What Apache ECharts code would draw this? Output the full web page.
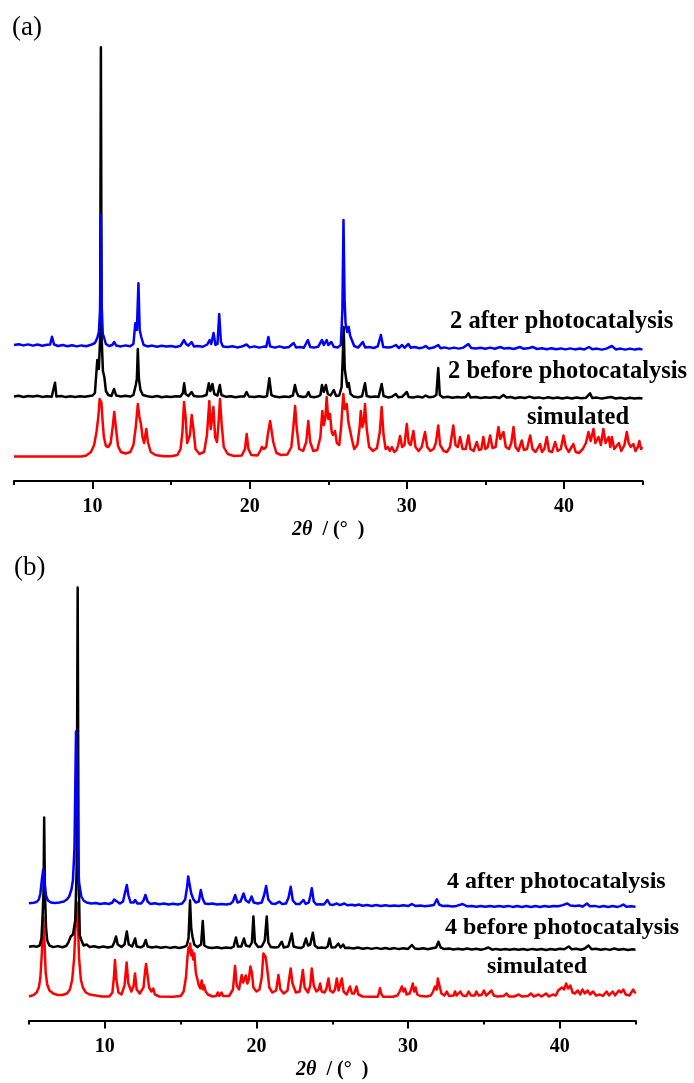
<!DOCTYPE html>
<html>
<head>
<meta charset="utf-8">
<script src="https://cdn.jsdelivr.net/npm/echarts@6/dist/echarts.min.js"></script>
<style>
  html, body { margin: 0; padding: 0; background: #fff; }
  #chart { width: 694px; height: 1083px; }
</style>
</head>
<body>
<div id="chart"></div>
<script>
// x axis ticks (2θ, degrees)
const majorTicks = [10, 20, 30, 40]
const minorTicks = [5, 15, 25, 35, 45]

// series labels
const labelsA = ['2 after photocatalysis', '2 before photocatalysis', 'simulated']
const labelsB = ['4 after photocatalysis', '4 before photocatalysis', 'simulated']

// vertical stacking offsets (a.u.), simulated / before / after
const offsetsA = [24, 82, 131]
const offsetsB = [23, 70, 113]

// ---- panel (a) : compound 2 ----
const aSimulated = [
  [5.0,0.5],[9.3,0.5],[9.6,1.5],[9.9,5],[10.1,12],[10.25,25],[10.38,42],[10.45,58],[10.5,60],[10.56,55],[10.63,38],[10.72,20],[10.85,11],
  [11.0,10],[11.15,14],[11.28,30],[11.38,45],[11.48,30],[11.62,11],[11.8,5],[12.1,3.5],[12.4,5],[12.6,12],[12.75,30],[12.88,53],[12.98,40],
  [13.08,33],[13.18,20],[13.28,14],[13.42,28],[13.52,15],[13.7,5],[14.0,2],[14.5,0.8],[15.0,0.8],[15.4,2],[15.6,8],[15.72,25],[15.82,55],
  [15.92,40],[16.02,14],[16.12,12],[16.2,22],[16.31,42],[16.42,28],[16.55,8],[16.8,3],[17.1,5],[17.28,22],[17.43,56],[17.52,28],[17.6,30],
  [17.69,50],[17.8,20],[17.92,15],[18.0,30],[18.11,58],[18.22,32],[18.35,10],[18.6,3],[19.0,1],[19.5,1.5],[19.7,8],[19.81,23],[19.92,8],
  [20.1,2],[20.5,1.5],[20.7,7],[20.77,10],[20.9,8],[21.05,10],[21.15,22],[21.3,36],[21.38,34],[21.5,15],[21.7,4],[22.0,2],[22.4,2.5],
  [22.65,10],[22.78,30],[22.89,51],[23.0,28],[23.15,8],[23.4,6],[23.6,15],[23.73,36],[23.85,15],[24.05,6],[24.3,7],[24.5,20],[24.62,46],
  [24.72,32],[24.82,40],[24.9,60],[25.0,38],[25.11,43],[25.22,25],[25.3,22],[25.43,26],[25.55,14],[25.7,12],[25.82,30],[25.9,50],[25.96,63],
  [26.05,48],[26.12,50],[26.18,53],[26.28,35],[26.39,36],[26.5,18],[26.65,8],[26.85,12],[27.0,30],[27.07,46],[27.17,30],[27.26,35],[27.34,53],
  [27.45,28],[27.6,10],[27.85,6],[28.1,9],[28.28,25],[28.4,50],[28.52,22],[28.65,8],[28.8,10],[28.92,6],[29.05,10],[29.2,5],[29.35,7],
  [29.45,12],[29.57,21],[29.7,10],[29.85,12],[30.0,33],[30.12,14],[30.25,12],[30.42,26],[30.55,10],[30.75,6],[30.95,10],[31.16,25],[31.3,10],
  [31.5,6],[31.7,8],[31.85,14],[32.0,31.5],[32.12,12],[32.35,6],[32.55,5],[32.75,10],[32.96,31.5],[33.1,12],[33.25,10],[33.39,20],[33.55,8],
  [33.75,8],[33.92,21.5],[34.05,8],[34.25,6],[34.45,15],[34.6,7],[34.75,8],[34.87,20],[35.0,8],[35.15,10],[35.3,21.5],[35.45,9],[35.65,10],
  [35.83,30],[35.95,18],[36.05,20],[36.15,25],[36.3,10],[36.5,8],[36.65,14],[36.79,30],[36.92,10],[37.1,6],[37.32,16.5],[37.45,7],[37.65,8],
  [37.85,21.5],[38.0,8],[38.2,5],[38.48,13],[38.6,5],[38.75,8],[38.91,20],[39.05,6],[39.25,5],[39.44,15],[39.6,6],[39.8,8],[39.97,21.5],
  [40.12,10],[40.3,5],[40.6,13],[40.75,5],[40.95,4],[41.2,8],[41.4,14],[41.56,25],[41.7,16],[41.88,28],[42.0,14],[42.2,20],[42.35,12],
  [42.51,28],[42.65,14],[42.85,20],[42.95,10],[43.05,20],[43.2,8],[43.5,14],[43.65,6],[43.85,12],[44.0,25],[44.12,14],[44.25,10],[44.42,13],
  [44.55,6],[44.7,10],[44.8,16],[44.9,8],[45.0,10]
]
const aBefore = [
  [5.0,2.5],[5.3,3.2],[5.6,2.0],[5.9,3.0],[6.2,2.4],[6.5,3.3],[6.8,2.1],[7.1,2.8],[7.4,2.2],[7.52,2.6],[7.61,16.3],[7.7,2.4],[8.0,3.0],
  [8.3,1.9],[8.6,2.7],[8.9,2.0],[9.2,2.8],[9.5,2.2],[9.8,3.0],[10.0,3.5],[10.15,6],[10.3,39],[10.4,30],[10.48,60],[10.53,351.7],[10.58,60],
  [10.66,28],[10.75,22],[10.85,8],[11.0,4],[11.2,3],[11.37,10],[11.5,3.5],[11.8,2.6],[12.1,3.2],[12.4,2.4],[12.6,4],[12.75,14],[12.82,20],
  [12.88,50],[12.95,20],[13.05,9],[13.2,4],[13.5,2.8],[13.8,2.0],[14.1,3.0],[14.4,1.8],[14.7,2.6],[15.0,2.0],[15.3,2.8],[15.6,2.5],[15.75,6],
  [15.83,15.7],[15.92,5],[16.1,3],[16.3,7],[16.45,3],[16.7,2.5],[17.0,2.8],[17.25,4],[17.4,15.7],[17.5,8],[17.63,15],[17.75,5],[17.95,3.5],
  [18.1,14],[18.2,4],[18.5,2.2],[18.8,2.8],[19.1,1.8],[19.4,2.6],[19.65,2.4],[19.8,7],[19.95,2.5],[20.3,2.0],[20.6,2.7],[20.9,1.9],[21.1,3.0],
  [21.25,20.7],[21.38,4],[21.6,2.4],[21.9,1.8],[22.2,2.6],[22.5,2.0],[22.75,3.5],[22.88,14],[22.98,7],[23.1,3],[23.4,2.0],[23.6,2.6],
  [23.74,7],[23.85,2.5],[24.1,1.8],[24.35,2.6],[24.5,4],[24.6,14],[24.72,7],[24.85,14],[24.97,5],[25.15,3.5],[25.35,9],[25.5,3],[25.7,3.5],
  [25.85,12],[25.92,40],[25.98,72],[26.05,30],[26.15,19],[26.22,12],[26.3,16],[26.42,5],[26.6,2.6],[26.9,1.8],[27.15,2.8],[27.34,15.7],
  [27.45,3],[27.7,2.0],[28.0,2.6],[28.2,2.0],[28.4,15],[28.52,3],[28.8,1.6],[29.05,2.3],[29.3,5],[29.45,1.8],[29.7,2.2],[30.0,7],[30.12,2],
  [30.4,1.6],[30.7,2.4],[31.0,1.5],[31.2,3.5],[31.4,1.8],[31.7,2.2],[31.88,4],[32.0,31],[32.1,4],[32.3,1.6],[32.6,2.2],[32.9,1.2],[33.2,2.0],
  [33.5,1.4],[33.75,2.0],[33.92,5.7],[34.05,1.6],[34.4,2.0],[34.7,1.0],[35.0,1.8],[35.3,1.2],[35.6,2.0],[35.9,1.0],[36.15,4],[36.35,1.5],
  [36.6,2.0],[36.9,0.8],[37.2,1.8],[37.5,1.0],[37.8,2.4],[38.1,1.0],[38.4,1.6],[38.7,0.6],[39.0,1.8],[39.3,0.8],[39.6,1.5],[39.9,0.5],
  [40.2,1.4],[40.5,0.6],[40.8,1.5],[41.1,0.8],[41.4,1.2],[41.66,5.7],[41.8,1.0],[42.1,1.4],[42.4,0.4],[42.7,1.2],[43.0,2.0],[43.3,0.5],
  [43.6,1.2],[43.9,0.3],[44.2,1.2],[44.5,0.4],[44.8,1.0],[45.0,0.5]
]
const aAfter = [
  [5.0,5.0],[5.3,5.8],[5.6,4.6],[5.9,5.6],[6.2,4.4],[6.5,5.5],[6.8,4.2],[7.1,5.2],[7.3,5.5],[7.42,13.3],[7.55,5.5],[7.8,4.0],[8.1,5.0],
  [8.4,3.8],[8.7,4.8],[9.0,3.6],[9.3,4.6],[9.6,3.8],[9.9,5.2],[10.15,7],[10.3,12],[10.4,18],[10.48,40],[10.53,135],[10.58,45],[10.65,16],
  [10.72,13],[10.85,6],[11.05,4],[11.25,5],[11.38,8],[11.5,4.5],[11.8,3.6],[12.1,4.6],[12.4,3.8],[12.6,6],[12.72,26.7],[12.82,20],
  [12.92,66.7],[13.0,20],[13.1,13],[13.25,5],[13.5,3.6],[13.8,4.4],[14.1,3.2],[14.4,4.2],[14.7,3.4],[15.0,4.0],[15.3,3.0],[15.6,4.2],
  [15.82,10],[15.95,6],[16.1,4.4],[16.3,8],[16.45,3.6],[16.7,4.0],[17.0,3.2],[17.3,5.5],[17.45,10],[17.55,6],[17.7,17],[17.82,5],[17.95,6],
  [18.06,36],[18.17,8],[18.3,3.4],[18.6,3.0],[18.9,3.8],[19.2,2.6],[19.5,3.4],[19.8,5.5],[20.0,2.6],[20.3,3.6],[20.6,2.4],[20.9,3.4],
  [21.05,3],[21.19,13],[21.3,3.6],[21.6,2.4],[21.9,3.6],[22.0,4.5],[22.2,2.2],[22.5,3.0],[22.8,7],[22.95,2.6],[23.2,3.0],[23.45,2.2],
  [23.7,10],[23.85,3],[24.1,2.4],[24.35,3.2],[24.6,10],[24.72,5],[24.9,10],[25.0,5],[25.2,8],[25.35,3.2],[25.6,2.6],[25.8,5],[25.9,40],
  [25.97,130],[26.04,50],[26.1,27],[26.2,18],[26.3,23],[26.4,14],[26.5,10],[26.65,4],[26.9,2.4],[27.2,8],[27.35,2.6],[27.6,3.0],[27.9,2.0],
  [28.15,3.6],[28.35,15],[28.5,3],[28.8,2.4],[29.05,3.0],[29.3,5],[29.5,2.0],[29.7,5],[29.85,2.2],[30.1,6],[30.25,2.2],[30.5,3.0],[30.8,1.8],
  [31.05,2.6],[31.2,4],[31.4,1.6],[31.7,2.4],[32.0,5],[32.15,1.8],[32.4,2.6],[32.7,1.4],[33.0,2.4],[33.3,1.4],[33.6,2.4],[33.92,6],[34.1,2],
  [34.4,1.4],[34.7,2.2],[35.0,1.2],[35.3,2.4],[35.6,1.2],[35.95,3],[36.2,1.4],[36.5,2.0],[36.8,1.0],[37.2,3],[37.45,1.2],[37.8,2.0],[38.0,3],
  [38.3,1.0],[38.6,1.8],[38.9,0.8],[39.2,1.8],[39.5,0.8],[39.8,1.6],[40.1,0.6],[40.4,1.6],[40.7,0.6],[41.0,1.4],[41.3,0.6],[41.6,3],[41.8,0.8],
  [42.1,1.4],[42.4,0.4],[42.7,1.4],[43.05,4],[43.3,0.6],[43.6,1.4],[43.9,0.4],[44.2,1.4],[44.5,0.4],[44.8,1.2],[45.0,0.4]
]

// ---- panel (b) : compound 4 ----
const bSimulated = [
  [5.0,1],[5.3,2.5],[5.5,5],[5.65,10],[5.75,20],[5.85,45],[5.94,80],[6.02,55],[6.1,25],[6.2,13],[6.35,7],[6.6,4],[6.9,2.5],[7.2,2.5],
  [7.5,4],[7.7,8],[7.85,18],[7.98,40],[8.08,75],[8.15,95],[8.22,80],[8.3,40],[8.42,18],[8.55,10],[8.75,5],[9.0,3],[9.4,2],[9.8,1],[10.3,1],
  [10.5,5],[10.6,20],[10.67,37.5],[10.76,18],[10.9,5],[11.1,3],[11.3,12],[11.44,35],[11.55,14],[11.75,6],[11.9,12],[11.99,24],[12.1,8],
  [12.3,4],[12.55,10],[12.65,25],[12.72,33.5],[12.82,22],[12.92,10],[13.0,11],[13.08,6],[13.2,9],[13.3,3],[13.6,1],[14.5,0.8],[15.0,1.5],
  [15.2,6],[15.35,20],[15.45,40],[15.52,50],[15.58,45],[15.63,54],[15.7,42],[15.76,47],[15.83,38],[15.9,44],[16.0,25],[16.1,27],[16.2,12],
  [16.3,9],[16.39,17],[16.48,8],[16.55,12],[16.65,6],[16.8,3],[17.1,1],[17.35,1.5],[17.45,5],[17.55,1.5],[17.7,5],[17.8,1.5],[18.2,1.5],
  [18.45,8],[18.59,31.5],[18.7,12],[18.85,8],[19.03,22.5],[19.12,15],[19.2,18],[19.3,22],[19.4,14],[19.5,18],[19.6,31],[19.7,25],[19.8,10],
  [20.0,6],[20.2,8],[20.35,20],[20.46,44],[20.6,40.8],[20.7,30],[20.85,10],[21.05,5],[21.3,7],[21.45,22.5],[21.58,8],[21.8,4],[22.05,7],
  [22.15,18],[22.26,29],[22.38,14],[22.6,5],[22.85,6],[22.95,15],[23.06,27.5],[23.18,10],[23.4,5],[23.55,12],[23.65,29],[23.78,12],
  [23.95,6],[24.1,8],[24.2,14],[24.3,6],[24.5,5],[24.62,9],[24.75,19],[24.86,7],[25.05,5],[25.18,8],[25.3,19],[25.42,7],[25.52,9],[25.63,19],
  [25.75,6],[25.95,3],[26.05,5],[26.17,11],[26.3,4],[26.45,4],[26.6,11],[26.72,3],[27.0,1],[27.5,0.8],[28.0,0.8],[28.08,5],[28.15,9.2],
  [28.22,4],[28.35,0.8],[29.0,0.8],[29.3,2],[29.45,6],[29.59,11],[29.7,6],[29.8,9],[29.9,3],[30.1,4],[30.2,8],[30.31,14],[30.4,6],[30.5,10],
  [30.6,3],[30.8,1.5],[31.2,1],[31.5,2],[31.65,6],[31.78,11],[31.9,8],[31.96,19],[32.07,12],[32.2,4],[32.4,2],[32.55,6],[32.7,1.5],[33.0,2],
  [33.1,6],[33.2,2],[33.45,6],[33.6,2],[33.85,1.5],[34.0,6],[34.15,2],[34.4,2],[34.5,6],[34.65,2],[34.85,2.5],[35.0,7],[35.15,2],[35.3,4],
  [35.5,7],[35.65,2],[35.9,1],[36.3,1.5],[36.5,4],[36.65,1],[37.0,1],[37.3,3],[37.5,1],[37.9,1.5],[38.1,4],[38.3,1],[38.6,3],[38.8,1],
  [39.1,4],[39.3,1],[39.55,3],[39.75,2],[39.9,7],[40.0,5],[40.15,10],[40.3,8],[40.42,14],[40.55,9],[40.7,12],[40.85,5],[41.0,4],[41.2,7],
  [41.35,3],[41.5,8],[41.65,4],[41.85,7],[42.0,3],[42.2,6],[42.4,2],[42.65,3],[42.85,1.5],[43.1,6],[43.25,2],[43.5,6],[43.65,2],[43.9,7],
  [44.05,5],[44.2,8],[44.35,3],[44.6,2],[44.85,8],[45.0,4]
]
const bBefore = [
  [5.0,3.8],[5.3,4.5],[5.5,3.6],[5.7,5],[5.82,12],[5.9,35.5],[5.96,60],[6.0,133],[6.05,60],[6.12,24],[6.2,10],[6.35,5],[6.6,3.4],[6.9,4.4],
  [7.2,3.2],[7.45,4.5],[7.6,8],[7.75,14],[7.9,16],[8.05,30],[8.14,80],[8.21,363],[8.27,80],[8.35,15],[8.45,10.5],[8.6,5],[8.8,6],[9.0,3.6],
  [9.3,4.2],[9.6,3.0],[9.9,4.0],[10.2,3.0],[10.5,4],[10.62,8],[10.74,14],[10.85,6],[11.1,3.6],[11.3,6],[11.45,19],[11.58,6],[11.8,4],
  [12.0,12],[12.1,4],[12.35,3.2],[12.55,4.5],[12.7,10.5],[12.82,4],[13.1,3.0],[13.4,3.8],[13.7,2.8],[14.0,3.6],[14.3,2.6],[14.6,3.4],
  [14.9,2.6],[15.2,3.4],[15.4,5],[15.52,12],[15.62,50],[15.7,22],[15.78,14],[15.9,6],[16.1,3.4],[16.35,6],[16.46,29.5],[16.56,5],[16.8,3.0],
  [17.1,2.4],[17.4,3.2],[17.7,2.2],[18.0,3.0],[18.3,2.4],[18.5,4],[18.65,13],[18.78,4],[19.0,4],[19.18,12],[19.3,5],[19.55,4],[19.7,8],
  [19.8,34],[19.9,8],[20.1,3.6],[20.35,4],[20.55,10],[20.68,34],[20.78,8],[20.95,3.4],[21.2,3.0],[21.45,3.6],[21.67,8.8],[21.8,3.0],[22.1,4],
  [22.33,17],[22.45,4],[22.7,3.0],[22.95,2.4],[23.1,4],[23.27,12],[23.4,5],[23.55,6],[23.72,17.8],[23.85,5],[24.05,2.6],[24.3,3.0],[24.55,2.4],
  [24.7,4],[24.82,12],[24.95,3],[25.2,3.2],[25.4,7],[25.55,3],[25.72,6],[25.85,2.4],[26.1,2.8],[26.4,2.0],[26.7,3.0],[27.0,1.8],[27.3,2.6],
  [27.6,1.6],[27.9,2.6],[28.2,1.6],[28.5,2.4],[28.8,1.6],[29.1,2.4],[29.4,1.4],[29.7,2.2],[30.0,1.6],[30.25,5.5],[30.45,2.0],[30.7,1.4],
  [31.0,2.2],[31.3,1.2],[31.6,2.2],[31.85,3],[32.0,8.8],[32.15,3],[32.4,1.4],[32.7,2.0],[33.0,1.0],[33.3,1.8],[33.6,1.0],[33.9,2.0],[34.2,1.0],
  [34.5,1.8],[34.8,0.8],[35.05,1.6],[35.3,3],[35.55,0.8],[35.8,1.6],[36.1,0.8],[36.4,1.6],[36.7,0.8],[37.0,1.6],[37.3,0.8],[37.6,1.4],
  [37.9,0.6],[38.2,1.6],[38.5,0.8],[38.8,1.4],[39.1,0.6],[39.4,1.4],[39.7,0.8],[40.0,1.8],[40.3,1.2],[40.6,4],[40.8,1.2],[41.1,1.8],[41.4,0.8],
  [41.65,2],[41.9,5],[42.1,1.2],[42.4,1.8],[42.7,0.8],[43.0,1.6],[43.3,0.6],[43.6,2.0],[43.9,0.8],[44.2,1.4],[44.5,0.6],[44.8,1.2],[45.0,0.8]
]
const bAfter = [
  [5.0,4.2],[5.3,4.8],[5.5,5.5],[5.65,8],[5.75,14],[5.85,28],[5.94,38],[6.02,26],[6.12,12],[6.25,7],[6.45,5],[6.7,4.5],[7.0,5],[7.3,6],
  [7.5,8],[7.65,11],[7.8,18],[7.9,27.5],[8.0,60],[8.06,130],[8.1,176],[8.16,150],[8.22,60],[8.3,25],[8.45,11],[8.6,7],[8.8,5],[9.1,4],
  [9.4,4.5],[9.7,3.6],[10.0,4.2],[10.3,3.6],[10.5,5],[10.62,8],[10.7,10],[10.8,6],[11.0,4],[11.2,6],[11.35,16],[11.45,22.5],[11.56,12],
  [11.7,5],[11.9,5],[12.0,7.5],[12.15,4],[12.4,4],[12.55,7],[12.68,12.5],[12.82,6],[13.0,3.6],[13.3,4.2],[13.6,3.2],[13.9,4.0],[14.2,3.0],
  [14.5,3.8],[14.8,3.0],[15.1,4],[15.3,8],[15.42,20],[15.5,31],[15.58,24],[15.7,14],[15.85,8],[16.0,5],[16.2,6],[16.33,17.5],[16.45,9],
  [16.6,4],[16.85,3.4],[17.1,4],[17.4,3.0],[17.7,3.6],[18.0,3.0],[18.3,3.8],[18.45,6],[18.6,12.5],[18.75,5],[18.95,6],[19.15,14],[19.3,7],
  [19.5,5],[19.68,11],[19.82,5],[20.1,4],[20.35,5],[20.5,12],[20.64,21.5],[20.78,8],[21.0,4],[21.25,3.6],[21.52,5.8],[21.7,3.4],[21.95,4],
  [22.12,10],[22.26,20.8],[22.4,7],[22.6,3.6],[22.85,3.4],[23.1,7.5],[23.25,3.6],[23.45,5],[23.56,12],[23.65,19.2],[23.78,6],[23.95,3.0],
  [24.2,3.2],[24.45,3.0],[24.68,7.5],[24.85,3.0],[25.05,2.6],[25.3,4],[25.5,2.4],[25.8,4],[26.0,2.2],[26.3,2.8],[26.5,2.0],[26.75,3],
  [27.0,1.8],[27.3,2.4],[27.6,1.6],[27.9,2.4],[28.2,1.6],[28.5,2.2],[28.8,1.4],[29.1,2.0],[29.4,1.4],[29.7,2.2],[30.0,1.4],[30.25,3.5],
  [30.5,1.4],[30.8,2.0],[31.1,1.2],[31.4,1.8],[31.7,2.5],[31.9,8.2],[32.05,3],[32.3,1.4],[32.6,1.8],[32.9,1.0],[33.2,1.6],[33.6,3.5],
  [33.9,1.2],[34.2,1.6],[34.5,0.8],[34.8,1.6],[35.1,0.8],[35.4,1.6],[35.7,0.8],[36.0,1.4],[36.3,0.8],[36.6,1.6],[36.9,0.6],[37.2,1.4],
  [37.5,0.6],[37.8,1.4],[38.1,0.6],[38.4,1.4],[38.7,0.6],[39.0,1.4],[39.3,0.8],[39.6,1.6],[39.9,1.2],[40.2,2.4],[40.5,4],[40.7,2],[41.0,1.4],
  [41.3,2],[41.5,0.8],[41.8,4],[42.0,1.2],[42.3,1.6],[42.6,0.6],[42.9,1.4],[43.2,0.6],[43.5,1.4],[43.8,0.6],[44.0,1.4],[44.2,3],[44.4,0.8],
  [44.7,1.2],[45.0,0.8]
]

const chart = echarts.init(document.getElementById('chart'))

const FONT = '"Liberation Serif", "Times New Roman", serif'
const COLORS = ['#ff0000', '#000000', '#0000ff'] // simulated, before, after

// shift a trace up by its stacking offset
const lift = (arr, off) => arr.map(p => [p[0], p[1] + off])

// main x axis with labels + long ticks, and an overlay axis for the short ticks
function xAxes (gridIndex) {
  return [
    {
      gridIndex,
      type: 'value',
      position: 'bottom',
      min: 5,
      max: 45,
      interval: 5,
      splitLine: { show: false },
      axisLine: { lineStyle: { color: '#000', width: 2 } },
      axisTick: { customValues: majorTicks, length: 8, lineStyle: { color: '#000', width: 2 } },
      axisLabel: {
        customValues: majorTicks,
        margin: 16,
        color: '#000',
        fontFamily: FONT,
        fontWeight: 'bold',
        fontSize: 20
      },
      name: '{i|2θ}{n|  / (°  )}',
      nameLocation: 'middle',
      nameGap: 39,
      nameTextStyle: {
        rich: {
          i: { fontFamily: FONT, fontWeight: 'bold', fontStyle: 'italic', fontSize: 20, color: '#000' },
          n: { fontFamily: FONT, fontWeight: 'bold', fontSize: 20, color: '#000' }
        }
      }
    },
    {
      gridIndex,
      type: 'value',
      position: 'bottom',
      offset: 0,
      min: 5,
      max: 45,
      interval: 5,
      splitLine: { show: false },
      axisLine: { show: false },
      axisLabel: { show: false },
      axisTick: { customValues: minorTicks, length: 4, lineStyle: { color: '#000', width: 2 } }
    }
  ]
}

function yAxis (gridIndex, max) {
  return { gridIndex, type: 'value', min: 0, max, show: false }
}

function line (data, color, xAxisIndex, yAxisIndex) {
  return {
    type: 'line',
    data,
    xAxisIndex,
    yAxisIndex,
    showSymbol: false,
    symbol: 'none',
    silent: true,
    clip: false,
    animation: false,
    lineStyle: { color, width: 2.5, join: 'round' }
  }
}

function label (text, x, y, size) {
  return {
    type: 'text',
    x,
    y,
    silent: true,
    style: { text, fill: '#000', font: 'bold ' + size + 'px ' + FONT, verticalAlign: 'middle' }
  }
}

const option = {
  backgroundColor: '#fff',
  animation: false,
  grid: [
    { left: 14, right: 51.5, top: 40, bottom: 602 },
    { left: 29, right: 58.5, top: 580, bottom: 62.5 }
  ],
  xAxis: [...xAxes(0), ...xAxes(1)],
  yAxis: [yAxis(0, 441), yAxis(1, 440.5)],
  series: [
    line(lift(aSimulated, offsetsA[0]), COLORS[0], 0, 0),
    line(lift(aBefore, offsetsA[1]), COLORS[1], 0, 0),
    line(lift(aAfter, offsetsA[2]), COLORS[2], 0, 0),
    line(lift(bSimulated, offsetsB[0]), COLORS[0], 2, 1),
    line(lift(bBefore, offsetsB[1]), COLORS[1], 2, 1),
    line(lift(bAfter, offsetsB[2]), COLORS[2], 2, 1)
  ],
  graphic: [
    { type: 'text', x: 12, y: 28, silent: true, style: { text: '(a)', fill: '#000', font: '27px ' + FONT, verticalAlign: 'middle' } },
    { type: 'text', x: 14, y: 568, silent: true, style: { text: '(b)', fill: '#000', font: '27px ' + FONT, verticalAlign: 'middle' } },
    label(labelsA[0], 450, 322, 24.5),
    label(labelsA[1], 448, 372, 24.5),
    label(labelsA[2], 527, 418, 24.5),
    label(labelsB[0], 447, 882, 24),
    label(labelsB[1], 445, 928, 24),
    label(labelsB[2], 487, 967, 24)
  ]
}

chart.setOption(option)
</script>
</body>
</html>
